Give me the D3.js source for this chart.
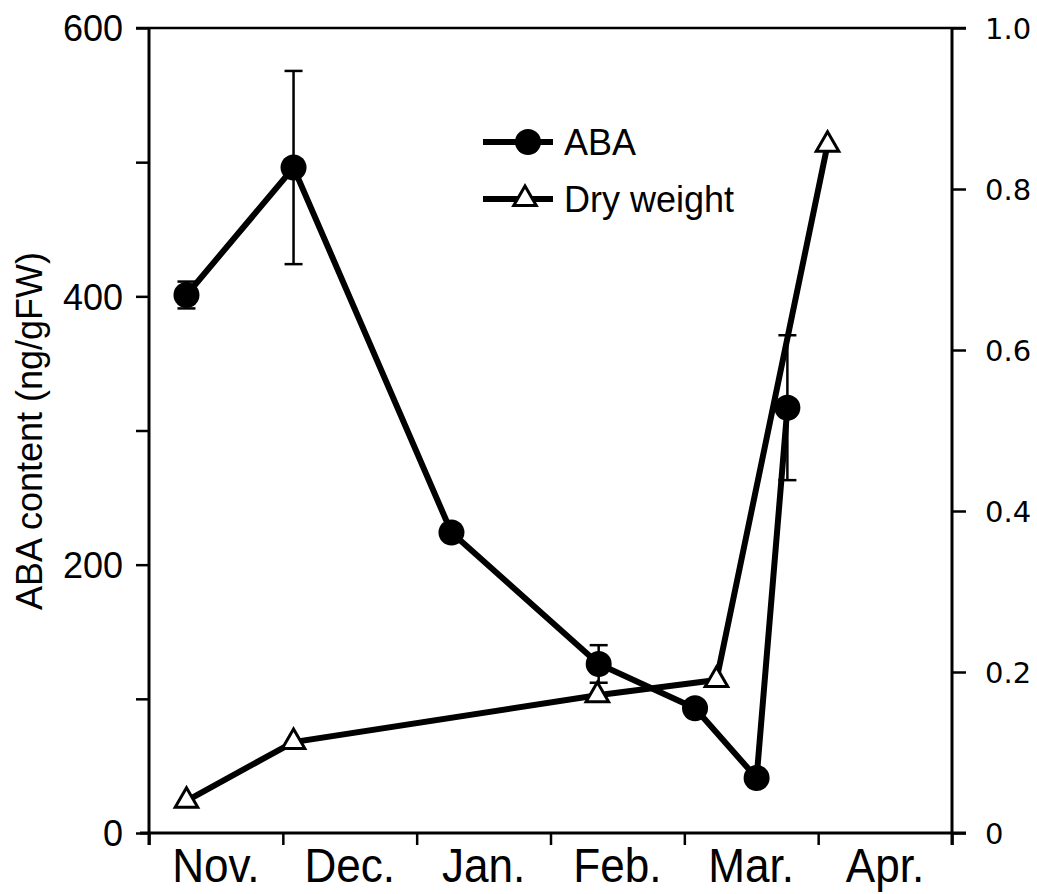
<!DOCTYPE html>
<html>
<head>
<meta charset="utf-8">
<script src="https://cdn.jsdelivr.net/npm/d3@7"></script>
<style>
  body { margin: 0; background: #fff; }
  svg { display: block; }
  text { font-family: "Liberation Sans", Arial, sans-serif; fill: #000; }
</style>
</head>
<body>
<script>
"use strict";
(function(){
    // month labels on the x axis
    const months = ["Nov.", "Dec.", "Jan.", "Feb.", "Mar.", "Apr."]
    const leftTicks = [0, 100, 200, 300, 400, 500, 600]
    const leftLabels = [0, 200, 400, 600]
    const rightTicks = [0, 0.2, 0.4, 0.6, 0.8, 1.0]

    // ABA content, x in months after 1 Nov
    const abaMonth = [0.28, 1.08, 2.26, 3.36, 4.08, 4.54, 4.77]
    const abaValue = [401, 496, 224, 126, 93, 41, 317]
    const abaError = [10, 72, 0, 14, 0, 0, 54]

    // dry weight
    const dryMonth = [0.28, 1.08, 3.35, 4.24, 5.07]
    const dryValue = [0.04, 0.113, 0.171, 0.19, 0.855]

    const measurements = {
        width: 1037,
        height: 894,
        left: 149,
        right: 952,
        top: 28,
        bottom: 833
    }

    const svg = d3.select("body").append("svg")
        .attr("width", measurements.width)
        .attr("height", measurements.height)

    const x = d3.scaleLinear().domain([0, months.length])
        .range([measurements.left, measurements.right])
    const yLeft = d3.scaleLinear().domain([0, 600])
        .range([measurements.bottom, measurements.top])
    const yRight = d3.scaleLinear().domain([0, 1])
        .range([measurements.bottom, measurements.top])

    // frame line on top
    svg.append("line")
        .attr("x1", measurements.left - 13).attr("x2", measurements.right + 14)
        .attr("y1", measurements.top).attr("y2", measurements.top)
        .attr("stroke", "#000").attr("stroke-width", 2.5)

    // x axis
    const xAxis = svg.append("g")
        .attr("transform", `translate(0, ${measurements.bottom})`)
        .call(d3.axisBottom(x).tickValues(d3.range(0, months.length + 1)).tickSize(12).tickFormat(""))
    xAxis.select(".domain").remove()
    xAxis.append("line")
        .attr("x1", measurements.left - 9).attr("x2", measurements.right + 14)
        .attr("stroke", "#000").attr("stroke-width", 3)
    xAxis.selectAll(".tick line").attr("stroke-width", 2.5)

    svg.append("g").selectAll("text")
        .data(months)
        .enter()
        .append("text")
        .attr("transform", (d, i) => `translate(${x(i + 0.5)}, 882) scale(0.9, 1)`)
        .attr("text-anchor", "middle")
        .style("font-size", "49px")
        .text(d => d)

    // left axis
    const leftAxis = svg.append("g")
        .attr("transform", `translate(${measurements.left}, 0)`)
        .call(d3.axisLeft(yLeft).tickValues(leftTicks).tickSize(13).tickPadding(13)
            .tickFormat(d => leftLabels.includes(d) ? d : ""))
    leftAxis.select(".domain").remove()
    leftAxis.append("line")
        .attr("y1", measurements.top).attr("y2", measurements.bottom + 12)
        .attr("stroke", "#000").attr("stroke-width", 3)
    leftAxis.selectAll(".tick line").attr("stroke-width", 2.5)
    leftAxis.selectAll(".tick text")
        .style("font-size", "36px")
        .style("font-family", "'Liberation Sans', Arial, sans-serif")
        .attr("dy", "0.36em")

    // right axis
    const rightAxis = svg.append("g")
        .attr("transform", `translate(${measurements.right}, 0)`)
        .call(d3.axisRight(yRight).tickValues(rightTicks).tickSize(14).tickPadding(19)
            .tickFormat(d => d === 0 ? "0" : d3.format(".1f")(d)))
    rightAxis.select(".domain").remove()
    rightAxis.append("line")
        .attr("y1", measurements.top).attr("y2", measurements.bottom + 12)
        .attr("stroke", "#000").attr("stroke-width", 3)
    rightAxis.selectAll(".tick line").attr("stroke-width", 2.5)
    rightAxis.selectAll(".tick text")
        .style("font-size", "29px")
        .style("font-family", "'DejaVu Sans', sans-serif")
        .attr("dy", "0.36em")

    // y axis title
    svg.append("text")
        .attr("transform", "translate(42, 431) rotate(-90)")
        .attr("text-anchor", "middle")
        .style("font-size", "36px")
        .text("ABA content (ng/gFW)")

    const aba = abaMonth.map((m, i) => ({ m: m, v: abaValue[i], e: abaError[i] }))
    const dry = dryMonth.map((m, i) => ({ m: m, v: dryValue[i] }))

    // lines
    svg.append("path")
        .datum(dry)
        .attr("fill", "none").attr("stroke", "#000").attr("stroke-width", 6)
        .attr("d", d3.line().x(d => x(d.m)).y(d => yRight(d.v)))

    svg.append("path")
        .datum(aba)
        .attr("fill", "none").attr("stroke", "#000").attr("stroke-width", 6)
        .attr("d", d3.line().x(d => x(d.m)).y(d => yLeft(d.v)))

    // error bars
    const bars = svg.append("g").selectAll("g")
        .data(aba.filter(d => d.e > 0))
        .enter()
        .append("g")
        .attr("stroke", "#000").attr("stroke-width", 2.5)
    bars.append("line")
        .attr("x1", d => x(d.m)).attr("x2", d => x(d.m))
        .attr("y1", d => yLeft(d.v + d.e)).attr("y2", d => yLeft(d.v - d.e))
    bars.append("line")
        .attr("x1", d => x(d.m) - 9).attr("x2", d => x(d.m) + 9)
        .attr("y1", d => yLeft(d.v + d.e)).attr("y2", d => yLeft(d.v + d.e))
    bars.append("line")
        .attr("x1", d => x(d.m) - 9).attr("x2", d => x(d.m) + 9)
        .attr("y1", d => yLeft(d.v - d.e)).attr("y2", d => yLeft(d.v - d.e))

    const triangle = d3.symbol().type(d3.symbolTriangle).size(220)

    // markers
    svg.append("g").selectAll("path")
        .data(dry)
        .enter()
        .append("path")
        .attr("d", triangle)
        .attr("transform", d => `translate(${x(d.m)}, ${yRight(d.v)})`)
        .attr("fill", "#fff").attr("stroke", "#000").attr("stroke-width", 3)

    svg.append("g").selectAll("circle")
        .data(aba)
        .enter()
        .append("circle")
        .attr("cx", d => x(d.m))
        .attr("cy", d => yLeft(d.v))
        .attr("r", 13)
        .attr("fill", "#000")

    // legend
    const legend = svg.append("g")
    legend.append("line")
        .attr("x1", 483).attr("x2", 553).attr("y1", 142).attr("y2", 142)
        .attr("stroke", "#000").attr("stroke-width", 6)
    legend.append("circle")
        .attr("cx", 528).attr("cy", 142).attr("r", 13).attr("fill", "#000")
    legend.append("text")
        .attr("x", 564).attr("y", 155)
        .style("font-size", "36px")
        .text("ABA")
    legend.append("line")
        .attr("x1", 483).attr("x2", 553).attr("y1", 199).attr("y2", 199)
        .attr("stroke", "#000").attr("stroke-width", 6)
    legend.append("path")
        .attr("d", triangle)
        .attr("transform", "translate(525, 199)")
        .attr("fill", "#fff").attr("stroke", "#000").attr("stroke-width", 3)
    legend.append("text")
        .attr("x", 564).attr("y", 212)
        .style("font-size", "36px")
        .text("Dry weight")
})()
</script>
</body>
</html>
